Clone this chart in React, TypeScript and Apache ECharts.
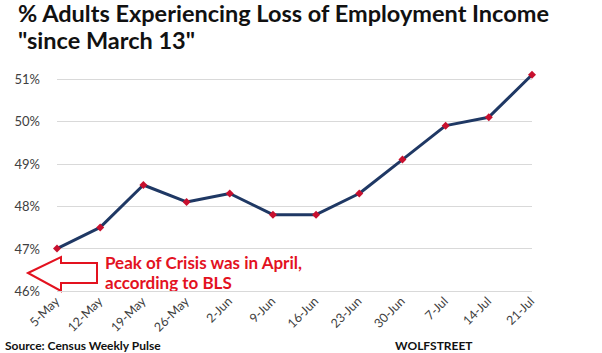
import React, { useEffect, useRef } from "react";
import * as echarts from "echarts";

const categories = ["5-May", "12-May", "19-May", "26-May", "2-Jun", "9-Jun", "16-Jun", "23-Jun", "30-Jun", "7-Jul", "14-Jul", "21-Jul"];
const values = [47.0, 47.5, 48.5, 48.1, 48.3, 47.8, 47.8, 48.3, 49.1, 49.9, 50.1, 51.1];
const titleLines = ["% Adults Experiencing Loss of Employment Income", "\"since March 13\""];
const annotation = ["Peak of Crisis was in April,", "according to BLS"];

export default function App() {
  const ref = useRef<HTMLDivElement>(null);
  useEffect(() => {
    document.body.style.margin = "0";
    const chart = echarts.init(ref.current!, null, { renderer: "svg" });
    chart.setOption({
      animation: false,
      backgroundColor: "#ffffff",
      grid: { left: 57, right: 70, top: 79, bottom: 62 },
      xAxis: {
        type: "category",
        data: categories,
        boundaryGap: false,
        axisLine: { show: false },
        axisTick: { show: false },
        axisLabel: { rotate: 45, color: "#404040", fontSize: 12.5, fontFamily: "Lato", margin: 8, interval: 0 },
      },
      yAxis: {
        type: "value",
        min: 46,
        max: 51,
        interval: 1,
        axisLine: { show: false },
        axisTick: { show: false },
        splitLine: { lineStyle: { color: "#d9d9d9", width: 1 } },
        axisLabel: { formatter: "{value}%", color: "#404040", fontSize: 13, fontFamily: "Lato", margin: 17 },
      },
      series: [
        {
          type: "line",
          data: values,
          clip: false,
          lineStyle: { color: "#1f3864", width: 3 },
          symbol: "diamond",
          symbolSize: 8,
          itemStyle: { color: "#c8102e" },
        },
      ],
      graphic: [
        {
          type: "text",
          left: 18,
          top: -1,
          style: { text: titleLines.join("\n"), font: "bold 23.5px Lato", fill: "#111111", lineHeight: 27 },
        },
        {
          type: "polygon",
          shape: { points: [[28, 273], [61, 257], [61, 263], [97, 263], [97, 283], [61, 283], [61, 291]] },
          style: { fill: "#ffffff", stroke: "#e3121f", lineWidth: 2 },
        },
        {
          type: "text",
          left: 105,
          top: 252,
          style: { text: annotation.join("\n"), font: "bold 17px Lato", fill: "#e3121f", lineHeight: 20 },
        },
        {
          type: "text",
          left: 5,
          top: 339,
          style: { text: "Source: Census Weekly Pulse", font: "bold 12px Lato", fill: "#111111" },
        },
        {
          type: "text",
          left: 395,
          top: 339,
          style: { text: "WOLFSTREET", font: "bold 12px Lato", fill: "#111111" },
        },
      ],
    });
    return () => chart.dispose();
  }, []);
  return <div ref={ref} style={{ width: 602, height: 353, overflow: "hidden" }} />;
}
